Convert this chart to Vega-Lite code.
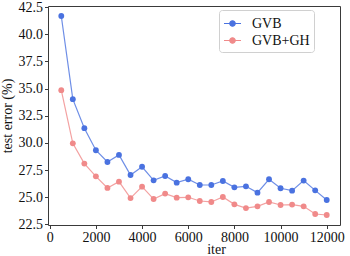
{
  "$schema": "https://vega.github.io/schema/vega-lite/v6.json",
  "width": 292,
  "height": 219,
  "autosize": "none",
  "padding": {"left": 48, "top": 6, "right": 10, "bottom": 31},
  "background": "white",
  "config": {
    "view": {"stroke": "#3a3a3a", "strokeWidth": 1},
    "font": "Liberation Serif",
    "axis": {
      "grid": false,
      "domain": false,
      "labelFont": "Liberation Serif",
      "labelFontSize": 14,
      "labelColor": "#111",
      "titleFont": "Liberation Serif",
      "titleFontSize": 14,
      "titleFontWeight": "normal",
      "titleColor": "#111",
      "tickColor": "#3a3a3a",
      "tickSize": 3.5,
      "labelPadding": 2
    },
    "legend": {
      "labelFont": "Liberation Serif",
      "labelFontSize": 14,
      "labelColor": "#111"
    }
  },
  "data": {
    "values": [
      {"iter": 500, "method": "GVB", "err": 41.68},
      {"iter": 1000, "method": "GVB", "err": 34.02},
      {"iter": 1500, "method": "GVB", "err": 31.35},
      {"iter": 2000, "method": "GVB", "err": 29.32},
      {"iter": 2500, "method": "GVB", "err": 28.24},
      {"iter": 3000, "method": "GVB", "err": 28.89},
      {"iter": 3500, "method": "GVB", "err": 27.04},
      {"iter": 4000, "method": "GVB", "err": 27.8},
      {"iter": 4500, "method": "GVB", "err": 26.55},
      {"iter": 5000, "method": "GVB", "err": 26.95},
      {"iter": 5500, "method": "GVB", "err": 26.34},
      {"iter": 6000, "method": "GVB", "err": 26.65},
      {"iter": 6500, "method": "GVB", "err": 26.12},
      {"iter": 7000, "method": "GVB", "err": 26.12},
      {"iter": 7500, "method": "GVB", "err": 26.49},
      {"iter": 8000, "method": "GVB", "err": 25.91},
      {"iter": 8500, "method": "GVB", "err": 26.0},
      {"iter": 9000, "method": "GVB", "err": 25.42},
      {"iter": 9500, "method": "GVB", "err": 26.65},
      {"iter": 10000, "method": "GVB", "err": 25.82},
      {"iter": 10500, "method": "GVB", "err": 25.6},
      {"iter": 11000, "method": "GVB", "err": 26.53},
      {"iter": 11500, "method": "GVB", "err": 25.63},
      {"iter": 12000, "method": "GVB", "err": 24.74},
      {"iter": 500, "method": "GVB+GH", "err": 34.85},
      {"iter": 1000, "method": "GVB+GH", "err": 29.96},
      {"iter": 1500, "method": "GVB+GH", "err": 28.09},
      {"iter": 2000, "method": "GVB+GH", "err": 26.92},
      {"iter": 2500, "method": "GVB+GH", "err": 25.85},
      {"iter": 3000, "method": "GVB+GH", "err": 26.43},
      {"iter": 3500, "method": "GVB+GH", "err": 24.92},
      {"iter": 4000, "method": "GVB+GH", "err": 25.97},
      {"iter": 4500, "method": "GVB+GH", "err": 24.83},
      {"iter": 5000, "method": "GVB+GH", "err": 25.33},
      {"iter": 5500, "method": "GVB+GH", "err": 24.96},
      {"iter": 6000, "method": "GVB+GH", "err": 24.99},
      {"iter": 6500, "method": "GVB+GH", "err": 24.65},
      {"iter": 7000, "method": "GVB+GH", "err": 24.56},
      {"iter": 7500, "method": "GVB+GH", "err": 25.02},
      {"iter": 8000, "method": "GVB+GH", "err": 24.34},
      {"iter": 8500, "method": "GVB+GH", "err": 24.0},
      {"iter": 9000, "method": "GVB+GH", "err": 24.16},
      {"iter": 9500, "method": "GVB+GH", "err": 24.56},
      {"iter": 10000, "method": "GVB+GH", "err": 24.28},
      {"iter": 10500, "method": "GVB+GH", "err": 24.32},
      {"iter": 11000, "method": "GVB+GH", "err": 24.16},
      {"iter": 11500, "method": "GVB+GH", "err": 23.45},
      {"iter": 12000, "method": "GVB+GH", "err": 23.36}
    ]
  },
  "encoding": {
    "x": {
      "field": "iter",
      "type": "quantitative",
      "scale": {"domain": [-75, 12575], "nice": false, "zero": false},
      "axis": {
        "title": "iter",
        "values": [0, 2000, 4000, 6000, 8000, 10000, 12000],
        "format": "d",
        "titleX": 168,
        "titleY": 28,
        "titleBaseline": "alphabetic"
      }
    },
    "y": {
      "field": "err",
      "type": "quantitative",
      "scale": {"domain": [22.44, 42.6], "nice": false, "zero": false},
      "axis": {
        "title": "test error (%)",
        "values": [22.5, 25, 27.5, 30, 32.5, 35, 37.5, 40, 42.5],
        "format": ".1f",
        "titlePadding": 4
      }
    },
    "color": {
      "field": "method",
      "type": "nominal",
      "scale": {"domain": ["GVB", "GVB+GH"], "range": ["#4a72e0", "#f08a8a"]},
      "legend": {
        "title": null,
        "orient": "none",
        "legendX": 171,
        "legendY": 4,
        "padding": 4,
        "strokeColor": "#d0d0d0",
        "fillColor": "white",
        "cornerRadius": 3,
        "rowPadding": 0,
        "labelOffset": 10,
        "symbolSize": 289,
        "symbolStrokeWidth": 1.2,
        "symbolOpacity": 1,
        "symbolType": "M-1,0L1,0M-0.32,0a0.32,0.32 0 1,0 0.64,0a0.32,0.32 0 1,0 -0.64,0",
        "offset": 0
      }
    }
  },
  "layer": [
    {"mark": {"type": "line", "strokeWidth": 1.2, "opacity": 0.8}},
    {"mark": {"type": "point", "filled": true, "size": 34, "opacity": 1}}
  ]
}
